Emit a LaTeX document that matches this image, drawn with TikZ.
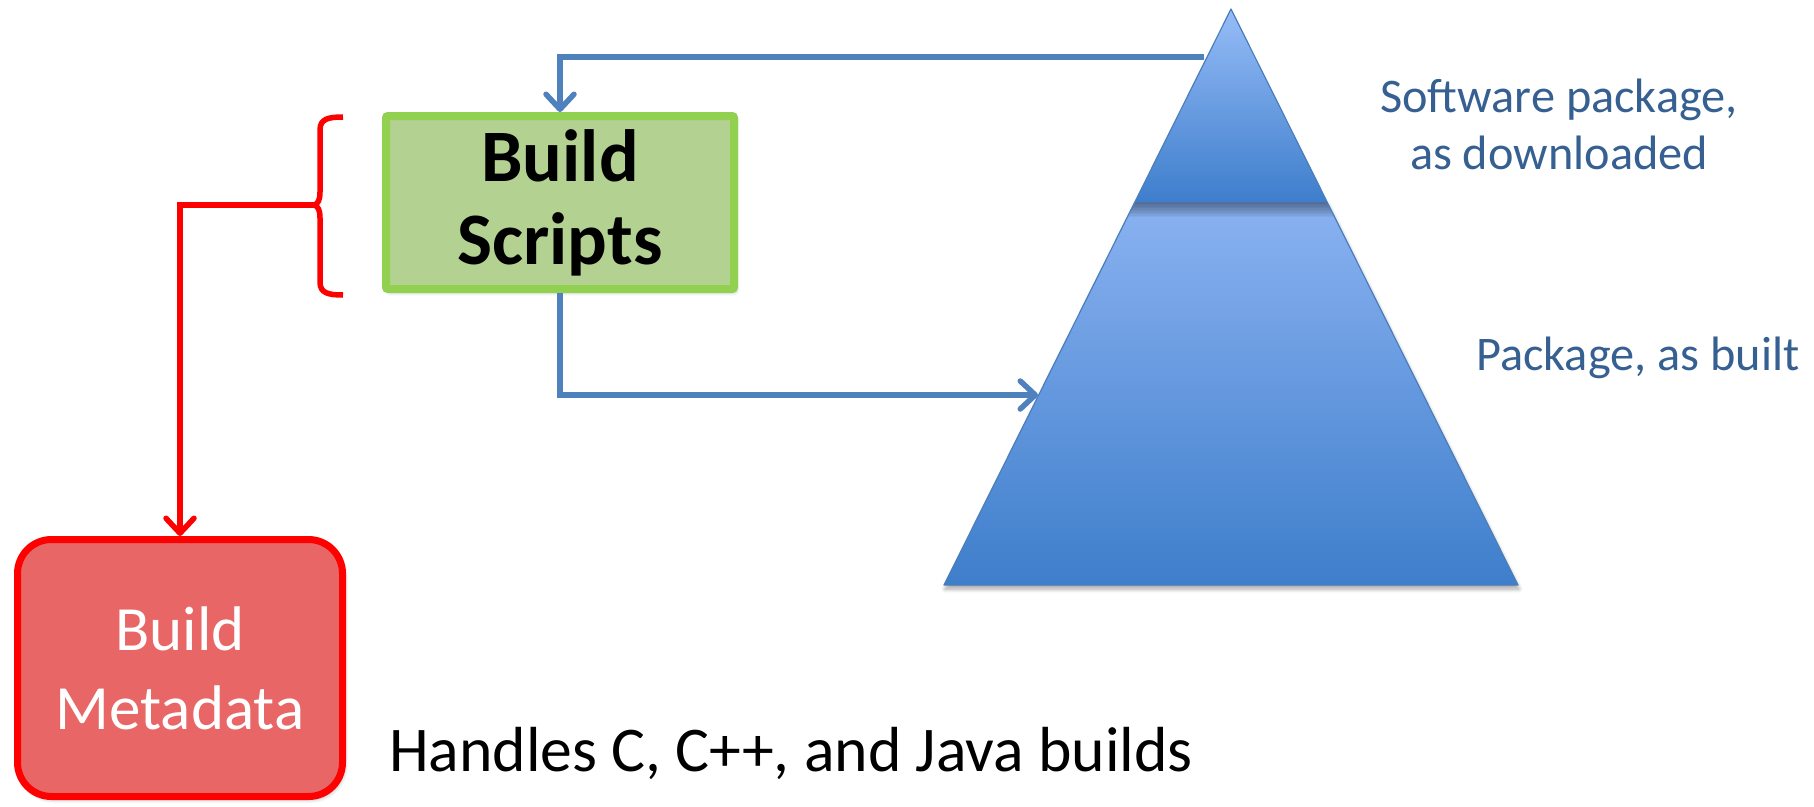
\documentclass[tikz,border=0pt]{standalone}
\usepackage{fontspec}
\setmainfont{Carlito}
\usetikzlibrary{arrows.meta,shadows.blur}

\definecolor{accentblue}{RGB}{79,129,189}
\definecolor{labelblue}{RGB}{55,96,146}
\definecolor{scriptfill}{RGB}{179,209,145}
\definecolor{scriptedge}{RGB}{146,208,80}
\definecolor{metafill}{RGB}{232,102,102}
\definecolor{triTopA}{RGB}{150,188,247}
\definecolor{triTopB}{RGB}{62,126,204}
\definecolor{triBotA}{RGB}{138,178,241}
\definecolor{triBotB}{RGB}{62,126,203}
\definecolor{triEdge}{RGB}{74,126,187}

\tikzset{
  softshadow/.style={blur shadow={shadow xshift=2pt,shadow yshift=-3pt,
      shadow blur radius=4pt,shadow blur steps=6,shadow opacity=30}},
  scriptbox/.style={draw=scriptedge,fill=scriptfill,line width=8pt,
      minimum width=348pt,minimum height=173pt,inner sep=0pt,align=center,
      rounded corners=2pt,softshadow,
      font=\fontsize{74}{86}\selectfont\bfseries},
  metabox/.style={draw=red,fill=metafill,line width=7pt,rounded corners=34pt,
      minimum width=325pt,minimum height=257pt,inner sep=0pt,align=center,
      text=white,softshadow,font=\fontsize{63}{79}\selectfont},
  bluelabel/.style={anchor=base,inner sep=0pt,text=labelblue,
      font=\fontsize{48.3}{57}\selectfont},
  bluearrow/.style={draw=accentblue,line width=5.5pt,
      -{Straight Barb[length=15pt,width=28pt,round]}},
  redarrow/.style={draw=red,line width=5.5pt,
      -{Straight Barb[length=15pt,width=28pt,round]}},
}

\begin{document}
\begin{tikzpicture}[x=1pt,y=-1pt]
\useasboundingbox (0,0) rectangle (1814,806);

% pyramid: downloaded package on top, built package below
\coordinate (apex) at (1231,9);
\coordinate (basel) at (944,585);
\coordinate (baser) at (1518,585);
\coordinate (sepl) at (1134.8,202);
\coordinate (sepr) at (1327.2,202);

\path[top color=triBotA,bottom color=triBotB,
      blur shadow={shadow xshift=1pt,shadow yshift=-4pt,shadow blur radius=4pt,
                   shadow blur steps=6,shadow opacity=35}]
  (sepl) -- (sepr) -- (baser) -- (basel) -- cycle;
\begin{scope}
  \clip (sepl) -- (sepr) -- (baser) -- (basel) -- cycle;
  \foreach \k in {1,...,10}
    \fill[black,opacity=0.045] (1128,202) rectangle (1334,202+\k*1.5);
\end{scope}
\path[top color=triTopA,bottom color=triTopB] (apex) -- (sepr) -- (sepl) -- cycle;
\draw[triEdge,line width=1.2pt,line join=round] (apex) -- (baser) -- (basel) -- cycle;

% boxes
\node[scriptbox] (scripts) at (560,202.5) {\raisebox{-3pt}{Build}\\Scripts};
\node[metabox] (meta) at (180,668) {Build\\Metadata};

% texts
\node[anchor=base west,inner sep=0pt,font=\fontsize{63.7}{64}\selectfont]
  (langs) at (389,771) {Handles C, C++, and Java builds};
\node[bluelabel] (dlA) at (1559,112) {Software package,};
\node[bluelabel] (dlB) at (1559,169) {as downloaded};
\node[bluelabel,anchor=base west] (built) at (1476,370) {Package, as built};

% blue connectors
\coordinate (dlsrc) at (1204,57);
\coordinate (bltgt) at (1038,395);
\draw[bluearrow] (dlsrc) -| (scripts.north);
\draw[bluearrow] (scripts.south) |- (bltgt);

% red brace and connector
\coordinate (bracetip) at (314,205);
\draw[red,line width=5.5pt]
  (343,117) .. controls (328,117) and (320,119) .. (320,130)
  -- (320,192) .. controls (320,200) and (318,204) .. (bracetip)
  .. controls (318,206) and (320,210) .. (320,218)
  -- (320,282) .. controls (320,293) and (328,295) .. (343,295);
\draw[redarrow] (bracetip) -| (meta.north);
\end{tikzpicture}
\end{document}
